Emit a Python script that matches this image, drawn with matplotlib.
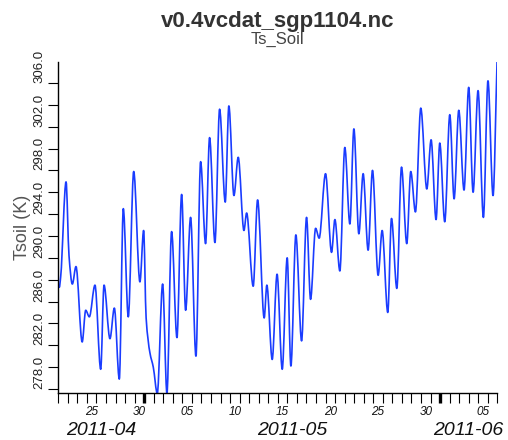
import numpy as np
import pandas as pd
import matplotlib
matplotlib.use("Agg")
import matplotlib.pyplot as plt
import matplotlib.dates as mdates
from matplotlib.path import Path
from matplotlib.patches import PathPatch

# Soil temperature turning points: days since 2011-04-22 00:00 and Tsoil in K
days = [0.00, 0.10, 0.25, 0.81, 1.12, 1.47, 1.85, 2.50, 2.87, 3.25,
        3.84, 4.44, 4.79, 5.41, 5.87, 6.39, 6.81, 7.33, 7.90, 8.55,
        8.94, 9.20, 9.60, 9.95, 10.37, 10.93, 11.38, 11.87, 12.43, 12.92,
        13.34, 13.86, 14.42, 14.91, 15.43, 15.85, 16.41, 16.90, 17.49, 17.87,
        18.40, 18.85, 19.45, 19.73, 20.42, 20.88, 21.57, 21.85, 22.41, 22.92,
        23.46, 23.98, 24.37, 24.89, 25.49, 26.01, 26.43, 26.96, 27.33, 28.00,
        28.63, 28.98, 29.50, 30.02, 30.55, 30.97, 31.49, 31.94, 32.46, 32.92,
        33.51, 33.93, 34.52, 34.91, 35.47, 35.96, 36.51, 36.93, 37.42, 37.98,
        38.61, 39.06, 39.58, 39.97, 40.49, 41.02, 41.47, 41.96, 42.51, 43.00,
        43.46, 43.98, 44.54, 45.02, 45.55, 45.97]
tsoil = [287.4, 287.3, 288.3, 296.95, 290.2, 287.6, 289.2, 282.3, 285.2, 284.6,
         287.5, 279.8, 287.5, 282.6, 285.4, 278.9, 294.5, 284.6, 297.9, 287.8,
         292.5, 284.5, 281.3, 280.0, 277.6, 287.6, 277.6, 292.4, 282.7, 295.8,
         285.2, 293.7, 281.0, 298.8, 291.3, 301.0, 291.4, 303.6, 295.1, 303.9,
         295.7, 299.2, 292.5, 294.1, 287.4, 295.3, 284.5, 287.5, 280.7, 288.5,
         279.8, 290.0, 280.1, 292.1, 282.4, 293.7, 286.2, 292.7, 291.8, 297.7,
         290.5, 293.5, 288.8, 300.1, 293.1, 301.8, 292.2, 297.7, 290.7, 298.0,
         288.4, 292.5, 285.0, 293.6, 287.2, 298.3, 291.3, 297.9, 294.2, 303.7,
         296.3, 300.8, 293.5, 300.5, 293.3, 303.1, 295.4, 303.5, 296.2, 305.6,
         296.0, 305.3, 293.7, 306.2, 295.7, 307.95]

start = pd.Timestamp("2011-04-22 00:00")
end = pd.Timestamp("2011-06-07 00:00")

y_major = [278.0, 282.0, 286.0, 290.0, 294.0, 298.0, 302.0, 306.0]
y_minor = [280.0, 284.0, 288.0, 292.0, 296.0, 300.0, 304.0]

day_label_dates = ["2011-04-25", "2011-04-30", "2011-05-05", "2011-05-10",
                   "2011-05-15", "2011-05-20", "2011-05-25", "2011-05-30",
                   "2011-06-05"]
day_labels = ["25", "30", "05", "10", "15", "20", "25", "30", "05"]
month_labels = ["2011-04", "2011-05", "2011-06"]
month_starts = ["2011-04-22", "2011-05-01", "2011-06-01", "2011-06-07"]


def smooth_path(x, y):
    """Monotone cubic (Fritsch-Carlson) curve through every point, as Bezier segments."""
    x = np.asarray(x, float)
    y = np.asarray(y, float)
    h = np.diff(x)
    d = np.diff(y) / h
    m = np.zeros_like(y)
    m[0], m[-1] = d[0], d[-1]
    for k in range(1, len(y) - 1):
        if d[k - 1] * d[k] > 0:
            w1 = 2 * h[k] + h[k - 1]
            w2 = h[k] + 2 * h[k - 1]
            m[k] = (w1 + w2) / (w1 / d[k - 1] + w2 / d[k])
    verts = [(x[0], y[0])]
    codes = [Path.MOVETO]
    for k in range(len(h)):
        verts += [(x[k] + h[k] / 3, y[k] + m[k] * h[k] / 3),
                  (x[k + 1] - h[k] / 3, y[k + 1] - m[k + 1] * h[k] / 3),
                  (x[k + 1], y[k + 1])]
        codes += [Path.CURVE4] * 3
    return Path(verts, codes)


times = start + pd.to_timedelta(np.array(days), unit="D")
tnum = mdates.date2num(times.to_pydatetime())

plt.rcParams["font.family"] = ["Liberation Sans", "DejaVu Sans"]

fig = plt.figure(figsize=(5.08, 4.40), dpi=100)
ax = fig.add_axes([0.1148, 0.1061, 0.979 - 0.1148, 0.8598 - 0.1061])
ax.xaxis_date()

ax.add_patch(PathPatch(smooth_path(tnum, tsoil), facecolor="none",
                       edgecolor="#1a3cff", lw=1.2, joinstyle="round"))

ax.set_xlim(start, end)
ax.set_ylim(min(tsoil), max(tsoil))

for side in ("top", "right"):
    ax.spines[side].set_visible(False)
for side in ("left", "bottom"):
    ax.spines[side].set_linewidth(1.0)

# x axis: daily ticks, heavier ticks at month boundaries
ax.xaxis.set_major_locator(mdates.MonthLocator(bymonthday=1))
ax.xaxis.set_minor_locator(mdates.DayLocator())
ax.xaxis.set_major_formatter(plt.NullFormatter())
ax.xaxis.set_minor_formatter(plt.NullFormatter())
ax.tick_params(axis="x", which="major", direction="out", length=7.5, width=2.4)
ax.tick_params(axis="x", which="minor", direction="out", length=7.5, width=0.8)

xt = ax.get_xaxis_transform()
for d, lab in zip(day_label_dates, day_labels):
    ax.text(pd.Timestamp(d) + pd.Timedelta(hours=12), -0.0564, lab,
            transform=xt, ha="center", va="center", fontsize=8.5,
            style="italic", color="#111111")
for i, lab in enumerate(month_labels):
    a = pd.Timestamp(month_starts[i])
    b = pd.Timestamp(month_starts[i + 1])
    ax.text(a + (b - a) / 2, -0.1107, lab, transform=xt, ha="center",
            va="center", fontsize=14, style="italic", color="#111111")

# y axis: rotated labels every 4 K, ticks every 2 K
ax.set_yticks(y_major)
ax.set_yticklabels([f"{v:.1f}" for v in y_major])
ax.set_yticks(y_minor, minor=True)
ax.tick_params(axis="y", which="both", direction="out", length=7.5, width=0.8)
ax.tick_params(axis="y", which="major", pad=6)
for lab in ax.get_yticklabels():
    lab.set_rotation(90)
    lab.set_rotation_mode("anchor")
    lab.set_ha("left")
    lab.set_va("center")
    lab.set_fontsize(9.5)
    lab.set_family(["Liberation Sans Narrow", "Liberation Sans"])
    lab.set_color("#222222")

ax.set_ylabel("Tsoil (K)", fontsize=13, color="#555555", va="center")
ax.yaxis.set_label_coords(-0.0825, 0.5)

cx = 0.1148 + (0.979 - 0.1148) / 2
fig.text(cx, 1 - 27.3 / 440, "v0.4vcdat_sgp1104.nc", ha="center",
         va="baseline", fontsize=16, fontweight="bold", color="#333333")
fig.text(cx, 1 - 44.3 / 440, "Ts_Soil", ha="center", va="baseline",
         fontsize=12, color="#444444")

fig.savefig("out.png", dpi=100)
